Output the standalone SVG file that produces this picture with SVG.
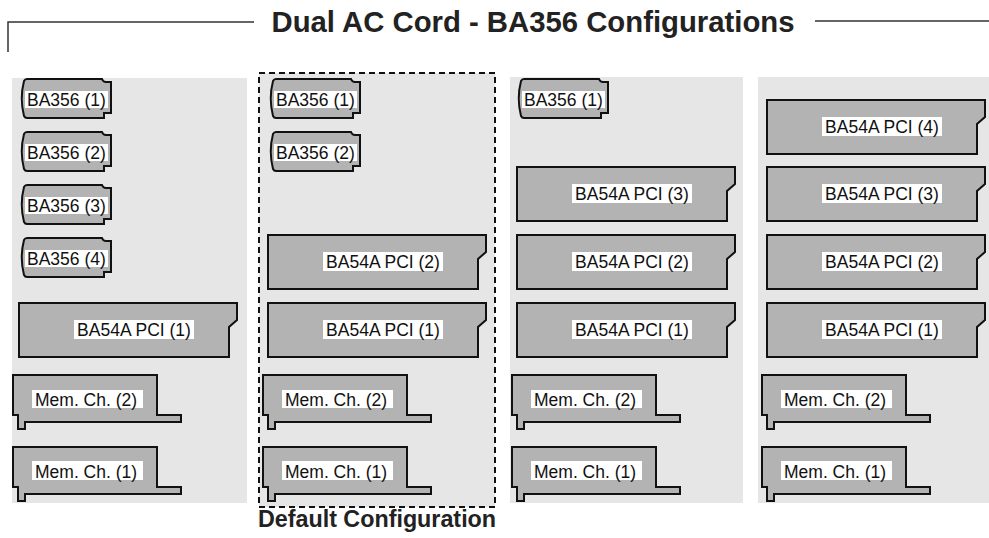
<svg xmlns="http://www.w3.org/2000/svg" xmlns:xlink="http://www.w3.org/1999/xlink" width="989" height="538" viewBox="0 0 989 538">
<style>
.panel{fill:#e6e6e6}
.card{fill:#b3b3b3;stroke:#111;stroke-width:2;stroke-linejoin:miter}
.lbl{fill:#fff}
.t{font-family:"Liberation Sans",Arial,sans-serif;font-size:17.5px;fill:#111}
.title{font-family:"Liberation Sans",Arial,sans-serif;font-weight:bold;fill:#222}
.rule{fill:none;stroke:#333;stroke-width:1.5}
</style>
<defs>
<path id="ba356" d="M6,0 H81 Q82,3 85,3 H90 V34 H83 V39 H6 Q4,39 3,37 Q-1.5,19.5 3,2 Q4,0 6,0 Z"/>
<path id="pci" d="M0,0 H218 V17 L210,24 V54 H0 Z"/>
<path id="mem" d="M0,0 H144 V40 H168 V47 H12 V54 H5 V40 H0 Z"/>
</defs>

<g id="title">
<path class="rule" d="M8,52 V22 H254"/>
<path class="rule" d="M815,21 H989"/>
<text class="title" x="533" y="32" font-size="29.3" text-anchor="middle">Dual AC Cord - BA356 Configurations</text>
</g>

<g id="panels">
<rect id="panel1" class="panel" x="12" y="78" width="235" height="425"/>
<rect id="panel2" class="panel" x="259" y="73" width="236" height="434" stroke="#111" stroke-width="2" stroke-dasharray="6,4"/>
<rect id="panel3" class="panel" x="510" y="77" width="233" height="426"/>
<rect id="panel4" class="panel" x="758" y="77" width="231" height="426"/>
</g>

<g id="connectors"></g>

<!-- Panel 1 -->
<g id="p1-ba356-1" transform="translate(21,79)"><use xlink:href="#ba356" class="card"/><rect class="lbl" x="4" y="12" width="83" height="17"/><text class="t" x="6" y="27">BA356 (1)</text></g>
<g id="p1-ba356-2" transform="translate(21,132)"><use xlink:href="#ba356" class="card"/><rect class="lbl" x="4" y="12" width="83" height="17"/><text class="t" x="6" y="27">BA356 (2)</text></g>
<g id="p1-ba356-3" transform="translate(21,185)"><use xlink:href="#ba356" class="card"/><rect class="lbl" x="4" y="12" width="83" height="17"/><text class="t" x="6" y="27">BA356 (3)</text></g>
<g id="p1-ba356-4" transform="translate(21,238)"><use xlink:href="#ba356" class="card"/><rect class="lbl" x="4" y="12" width="83" height="17"/><text class="t" x="6" y="27">BA356 (4)</text></g>
<g id="p1-pci-1" transform="translate(19,303)"><use xlink:href="#pci" class="card"/><rect class="lbl" x="55" y="17" width="120" height="19"/><text class="t" x="115" y="33" text-anchor="middle">BA54A PCI (1)</text></g>
<g id="p1-mem-2" transform="translate(13,375)"><use xlink:href="#mem" class="card"/><rect class="lbl" x="19" y="15" width="111" height="18"/><text class="t" x="22" y="31">Mem. Ch. (2)</text></g>
<g id="p1-mem-1" transform="translate(13,447)"><use xlink:href="#mem" class="card"/><rect class="lbl" x="19" y="14" width="111" height="19"/><text class="t" x="22" y="31">Mem. Ch. (1)</text></g>

<!-- Panel 2 -->
<g id="p2-ba356-1" transform="translate(270,79)"><use xlink:href="#ba356" class="card"/><rect class="lbl" x="4" y="12" width="83" height="17"/><text class="t" x="6" y="27">BA356 (1)</text></g>
<g id="p2-ba356-2" transform="translate(270,132)"><use xlink:href="#ba356" class="card"/><rect class="lbl" x="4" y="12" width="83" height="17"/><text class="t" x="6" y="27">BA356 (2)</text></g>
<g id="p2-pci-2" transform="translate(268,235)"><use xlink:href="#pci" class="card"/><rect class="lbl" x="55" y="17" width="120" height="19"/><text class="t" x="115" y="33" text-anchor="middle">BA54A PCI (2)</text></g>
<g id="p2-pci-1" transform="translate(268,303)"><use xlink:href="#pci" class="card"/><rect class="lbl" x="55" y="17" width="120" height="19"/><text class="t" x="115" y="33" text-anchor="middle">BA54A PCI (1)</text></g>
<g id="p2-mem-2" transform="translate(263,375)"><use xlink:href="#mem" class="card"/><rect class="lbl" x="19" y="15" width="111" height="18"/><text class="t" x="22" y="31">Mem. Ch. (2)</text></g>
<g id="p2-mem-1" transform="translate(263,447)"><use xlink:href="#mem" class="card"/><rect class="lbl" x="19" y="14" width="111" height="19"/><text class="t" x="22" y="31">Mem. Ch. (1)</text></g>

<!-- Panel 3 -->
<g id="p3-ba356-1" transform="translate(518,79)"><use xlink:href="#ba356" class="card"/><rect class="lbl" x="4" y="12" width="83" height="17"/><text class="t" x="6" y="27">BA356 (1)</text></g>
<g id="p3-pci-3" transform="translate(517,167)"><use xlink:href="#pci" class="card"/><rect class="lbl" x="55" y="17" width="120" height="19"/><text class="t" x="115" y="33" text-anchor="middle">BA54A PCI (3)</text></g>
<g id="p3-pci-2" transform="translate(517,235)"><use xlink:href="#pci" class="card"/><rect class="lbl" x="55" y="17" width="120" height="19"/><text class="t" x="115" y="33" text-anchor="middle">BA54A PCI (2)</text></g>
<g id="p3-pci-1" transform="translate(517,303)"><use xlink:href="#pci" class="card"/><rect class="lbl" x="55" y="17" width="120" height="19"/><text class="t" x="115" y="33" text-anchor="middle">BA54A PCI (1)</text></g>
<g id="p3-mem-2" transform="translate(512,375)"><use xlink:href="#mem" class="card"/><rect class="lbl" x="19" y="15" width="111" height="18"/><text class="t" x="22" y="31">Mem. Ch. (2)</text></g>
<g id="p3-mem-1" transform="translate(512,447)"><use xlink:href="#mem" class="card"/><rect class="lbl" x="19" y="14" width="111" height="19"/><text class="t" x="22" y="31">Mem. Ch. (1)</text></g>

<!-- Panel 4 -->
<g id="p4-pci-4" transform="translate(767,100)"><use xlink:href="#pci" class="card"/><rect class="lbl" x="55" y="17" width="120" height="19"/><text class="t" x="115" y="33" text-anchor="middle">BA54A PCI (4)</text></g>
<g id="p4-pci-3" transform="translate(767,167)"><use xlink:href="#pci" class="card"/><rect class="lbl" x="55" y="17" width="120" height="19"/><text class="t" x="115" y="33" text-anchor="middle">BA54A PCI (3)</text></g>
<g id="p4-pci-2" transform="translate(767,235)"><use xlink:href="#pci" class="card"/><rect class="lbl" x="55" y="17" width="120" height="19"/><text class="t" x="115" y="33" text-anchor="middle">BA54A PCI (2)</text></g>
<g id="p4-pci-1" transform="translate(767,303)"><use xlink:href="#pci" class="card"/><rect class="lbl" x="55" y="17" width="120" height="19"/><text class="t" x="115" y="33" text-anchor="middle">BA54A PCI (1)</text></g>
<g id="p4-mem-2" transform="translate(762,375)"><use xlink:href="#mem" class="card"/><rect class="lbl" x="19" y="15" width="111" height="18"/><text class="t" x="22" y="31">Mem. Ch. (2)</text></g>
<g id="p4-mem-1" transform="translate(762,447)"><use xlink:href="#mem" class="card"/><rect class="lbl" x="19" y="14" width="111" height="19"/><text class="t" x="22" y="31">Mem. Ch. (1)</text></g>

<g id="caption">
<text class="title" x="377" y="527" font-size="23.3" text-anchor="middle">Default Configuration</text>
</g>
</svg>
